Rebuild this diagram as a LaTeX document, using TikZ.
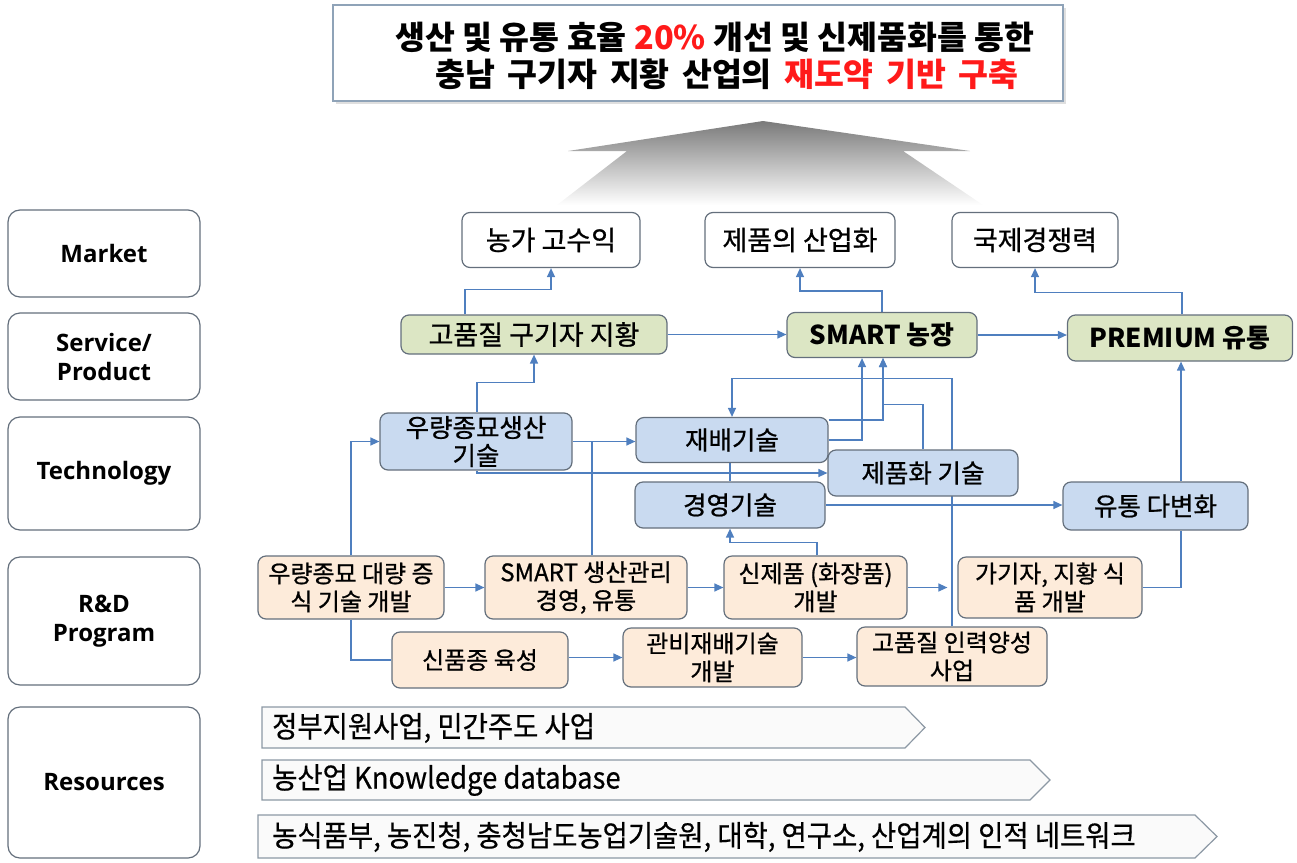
\documentclass[tikz,border=0pt]{standalone}
\usepackage{fontspec}
\setmainfont{Noto Sans CJK KR}
\newfontfamily\lab{Open Sans}
\newfontfamily\nf[FakeBold=0.8]{Noto Sans CJK KR}
\newfontfamily\resfont[FakeStretch=0.93,FakeBold=0.5]{Noto Sans CJK KR}
\usetikzlibrary{arrows.meta,backgrounds,shadows}
\definecolor{linec}{HTML}{4F7FBF}
\definecolor{bordc}{HTML}{646F7C}
\definecolor{greenf}{HTML}{DCE6C4}
\definecolor{bluef}{HTML}{C9DAF0}
\definecolor{beigef}{HTML}{FDEBDA}
\definecolor{titleb}{HTML}{8FA3B8}
\definecolor{redt}{HTML}{FF1A1A}
\definecolor{arrtop}{HTML}{7A7A7A}
\definecolor{resb}{HTML}{8C98A4}
\definecolor{resf}{HTML}{FAFAFA}
\begin{document}
\begin{tikzpicture}[x=1pt,y=-1pt,
  wh/.style 2 args={minimum width=#1,minimum height=#2},
  box/.style={draw=bordc,line width=1.2pt,rounded corners=8pt,inner sep=0pt,align=center},
  mk/.style={box,fill=white,font=\nf\fontsize{27}{30}\selectfont},
  sv/.style={box,fill=greenf,font=\nf\fontsize{27}{30}\selectfont},
  svb/.style={box,fill=greenf,font=\bfseries\fontsize{26}{30}\selectfont},
  tc/.style={box,fill=bluef,font=\nf\fontsize{25.5}{28}\selectfont},
  rd/.style={box,fill=beigef,font=\nf\fontsize{24}{28}\selectfont},
  lbox/.style={draw=bordc,line width=1.2pt,rounded corners=12pt,fill=white,inner sep=0pt,
    align=center,minimum width=192,font=\lab\bfseries\fontsize{24}{29}\selectfont},
  titlebox/.style={draw=titleb,line width=1.2pt,fill=white,inner sep=0pt,
    minimum width=730,minimum height=96,
    drop shadow={shadow xshift=3pt,shadow yshift=-3pt,opacity=0.25}},
  titletext/.style={inner sep=0pt,font=\bfseries\fontsize{32.5}{38}\selectfont},
  resarrow/.style={draw=resb,line width=1.2pt,fill=resf},
  restext/.style={anchor=west,inner sep=0pt,font=\resfont\fontsize{29.5}{32}\selectfont},
  line/.style={draw=linec,line width=1.3pt},
  arr/.style={line,-{Triangle[length=9pt,width=8pt]}}
]
\useasboundingbox (0,0) rectangle (1297,862);

% title
\node[titlebox] (title) at (698,53) {};
\node[titletext] (tl1) at (715,37) {생산 및 유통 효율 {\color{redt}20\%} 개선 및 신제품화를 통한};
\node[titletext] (tl2) at (727,74) {충남\hspace{0.15em} 구기자\hspace{0.15em} 지황\hspace{0.15em} 산업의\hspace{0.15em} {\color{redt}재도약\hspace{0.15em} 기반\hspace{0.15em} 구축}};

% big gray arrow
\shade[top color=arrtop,bottom color=white] (763,121) -- (970,151) -- (903,151) -- (983,205)
  -- (557,205) -- (627,151) -- (568,151) -- cycle;

% left labels
\node[lbox,minimum height=87] (Lm) at (104,253.5) {Market};
\node[lbox,minimum height=87] (Ls) at (104,356.5) {Service/\\Product};
\node[lbox,minimum height=113] (Lt) at (104,473.5) {Technology};
\node[lbox,minimum height=128] (Lr) at (104,621) {R\&D\\Program};
\node[lbox,minimum height=151] (Lres) at (104,782.5) {Resources};

% market
\node[mk,wh={178}{55}] (m1) at (551,240) {농가 고수익};
\node[mk,wh={190}{55}] (m2) at (800,240) {제품의 산업화};
\node[mk,wh={166}{55}] (m3) at (1035,240) {국제경쟁력};

% service / product
\node[sv,wh={266}{39}] (s1) at (534,334.5) {고품질 구기자 지황};
\node[svb,wh={190}{45}] (s2) at (882,335) {SMART 농장};
\node[svb,wh={225}{46}] (s3) at (1180,338) {PREMIUM 유통};

% technology
\node[tc,wh={192}{57}] (t1) at (476,441.5) {우량종묘생산\\기술};
\node[tc,wh={192}{45}] (t2) at (732,440) {재배기술};
\node[tc,wh={190}{46}] (t3) at (923,473) {제품화 기술};
\node[tc,wh={190}{46}] (t4) at (730,505) {경영기술};
\node[tc,wh={185}{48}] (t5) at (1155.5,506) {유통 다변화};

% R&D
\node[rd,wh={186}{63}] (r1) at (351,587.5) {우량종묘 대량 증\\식 기술 개발};
\node[rd,wh={202}{63}] (r2) at (586,587.5) {SMART 생산관리\\경영, 유통};
\node[rd,wh={183}{63}] (r3) at (815.5,587.5) {신제품 (화장품)\\개발};
\node[rd,wh={184}{61}] (r4) at (1050,587.5) {가기자, 지황 식\\품 개발};
\node[rd,wh={176}{56}] (r5) at (480,660) {신품종 육성};
\node[rd,wh={179}{59}] (r6) at (712.5,657.5) {관비재배기술\\개발};
\node[rd,wh={190}{59}] (r7) at (952,656.5) {고품질 인력양성\\사업};

% resources
\draw[resarrow] (262,707) -- (905,707) -- (925,727.5) -- (905,748) -- (262,748) -- cycle;
\draw[resarrow] (262,760) -- (1030,760) -- (1050,780) -- (1030,800) -- (262,800) -- cycle;
\draw[resarrow] (258,815) -- (1195,815) -- (1217,836.5) -- (1195,858) -- (258,858) -- cycle;
\node[restext] (ra) at (272,728) {정부지원사업, 민간주도 사업};
\node[restext] (rb) at (272,780) {농산업 Knowledge database};
\node[restext] (rc) at (272,837) {농식품부, 농진청, 충청남도농업기술원, 대학, 연구소, 산업계의 인적 네트워크};

% helper coordinates
\coordinate (s1top) at ([xshift=-69]s1.north);
\coordinate (s3top) at ([xshift=2]s3.north);
\coordinate (t1top) at ([xshift=1]t1.north);
\coordinate (t1bot) at ([xshift=1]t1.south);
\coordinate (t5bot) at ([xshift=25.5]t5.south);
\coordinate (t5top) at ([xshift=25.5]t5.north);
\coordinate (r2top) at ([xshift=6]r2.north);
\coordinate (r3top) at ([xshift=1.5]r3.north);
\coordinate (s2a) at ([xshift=-20]s2.south);
\coordinate (s2b) at ([xshift=1]s2.south);
\coordinate (t2ne) at ([yshift=-3]t2.north east);

\begin{pgfonlayer}{background}
\draw[arr] (s1top) -- ++(0,-25) -| (m1.south);
\draw[arr] (s2.north) -- ++(0,-21) -| (m2.south);
\draw[arr] (s3top) -- ++(0,-22) -| (m3.south);
\draw[arr] (s1.east) -- (s2.west |- s1.east);
\draw[arr] (s2.east) -- (s3.west |- s2.east);
\draw[arr] (t1top) -- ++(0,-30) -| (s1.south);
\draw[arr] (r1.north) |- (t1.west);
\draw[line] (r1.south) |- (r5.west);
\draw[arr] (r1.east) -- (r2.west);
\draw[arr] (r2.east) -- (r3.west);
\draw[arr,shorten >=10pt] (r3.east) -- (r4.west |- r3.east);
\draw[arr] (r5.east |- r6.west) -- (r6.west);
\draw[arr] (r6.east) -- (r7.west |- r6.east);
\draw[line] (r4.east) -| (t5bot);
\draw[arr] (t5top) -- (t5top |- s3.south);
\draw[arr] (t4.east) -- (t5.west |- t4.east);
\draw[arr] (t1.east) -- (t2.west |- t1.east);
\draw[line] (r2top) -- (r2top |- t1.east);
\draw[arr] (t1bot) |- (t3.west);
\draw[arr] (r3top) -- ++(0,-13) -| (t4.south);
\draw[line] (t4.north |- t2.south) -- (t4.north);
\draw[arr] (t2.east) -| (s2a);
\draw[arr] (t2ne) -| (s2b);
\draw[arr] (t3.north) -- ++(0,-45) -| (s2b);
\draw[arr] (r7.north) -- ++(0,-248) -| (t2.north);
\end{pgfonlayer}
\end{tikzpicture}
\end{document}
